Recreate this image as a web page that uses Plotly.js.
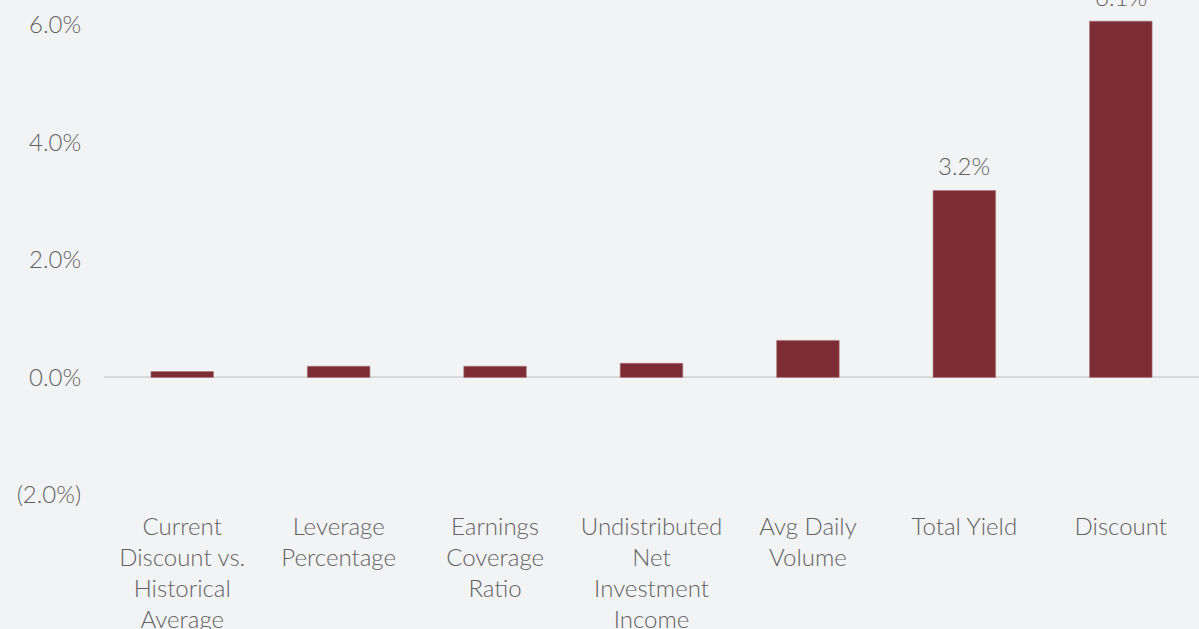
<!DOCTYPE html>
<html>
<head>
<meta charset="utf-8">
<script src="https://cdn.plot.ly/plotly-3.0.1.min.js"></script>
<style>html,body{margin:0;padding:0;background:#f2f3f5;}#chart{width:1199px;height:629px;}</style>
</head>
<body>
<div id="chart"></div>
<script>
const categories = [
  "Current<br>Discount vs.<br>Historical<br>Average",
  "Leverage<br>Percentage",
  "Earnings<br>Coverage<br>Ratio",
  "Undistributed<br>Net<br>Investment<br>Income",
  "Avg Daily<br>Volume",
  "Total Yield",
  "Discount"
];
const values = [0.10, 0.19, 0.19, 0.24, 0.63, 3.18, 6.06];
const shownLabels = ["", "", "", "", "", "3.2%", "6.1%"];
const yTickVals = [-2, 0, 2, 4, 6];
const yTickText = ["(2.0%)", "0.0%", "2.0%", "4.0%", "6.0%"];

const fontFamily = "'Lato Light', Lato, 'Open Sans', sans-serif";
const textColor = "#626262";
const fs = 24;

const trace = {
  type: "bar",
  x: categories,
  y: values,
  marker: {color: "#7f2d34", line: {color: "#a8787c", width: 0.6}},
  width: 0.4,
  hoverinfo: "skip"
};

const annotations = categories.map((c, i) => ({
  x: c, y: values[i], xref: "x", yref: "y",
  text: shownLabels[i], showarrow: false,
  yanchor: "bottom", yshift: 8,
  font: {family: fontFamily, size: fs, color: textColor, weight: 300}
})).filter(a => a.text !== "");

const layout = {
  width: 1199,
  height: 629,
  margin: {l: 104, r: 0, t: 0, b: 134},
  paper_bgcolor: "#f2f3f5",
  plot_bgcolor: "#f2f3f5",
  showlegend: false,
  font: {family: fontFamily, size: fs, color: textColor, weight: 300},
  annotations: annotations,
  xaxis: {
    type: "category",
    showgrid: false,
    showline: false,
    zeroline: false,
    ticks: "outside",
    ticklen: 10,
    tickcolor: "rgba(0,0,0,0)",
    tickfont: {family: fontFamily, size: fs, color: textColor, weight: 300},
    tickangle: 0,
    automargin: false
  },
  yaxis: {
    range: [-2, 6.42],
    tickvals: yTickVals,
    ticktext: yTickText,
    showgrid: false,
    showline: false,
    zeroline: true,
    zerolinecolor: "#d9d9d9",
    zerolinewidth: 2,
    ticks: "outside",
    ticklen: 17,
    tickcolor: "rgba(0,0,0,0)",
    tickfont: {family: fontFamily, size: fs, color: textColor, weight: 300},
    automargin: false
  }
};

Plotly.newPlot("chart", [trace], layout, {displayModeBar: false, staticPlot: true});
</script>
</body>
</html>
